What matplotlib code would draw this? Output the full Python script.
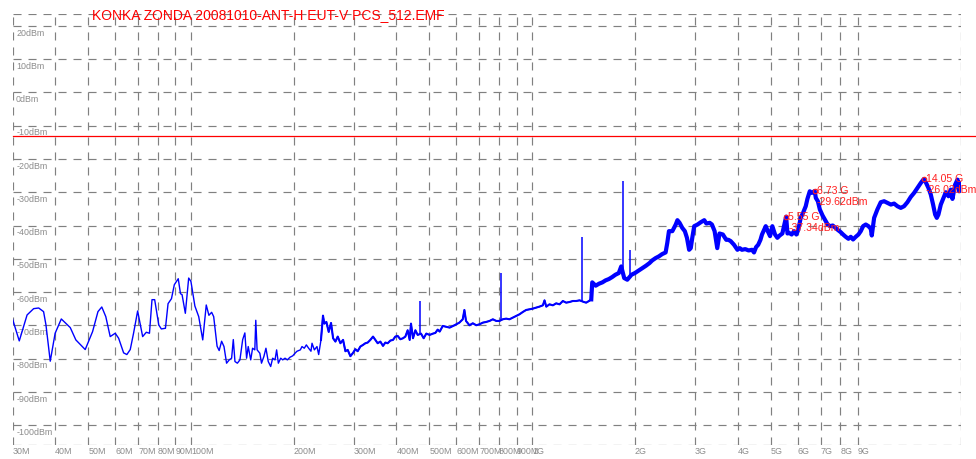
import matplotlib

matplotlib.use("Agg")
import matplotlib.pyplot as plt
import matplotlib.transforms as mtransforms
import numpy as np

plt.rcParams["font.family"] = ["Liberation Sans", "DejaVu Sans"]
plt.rcParams["lines.scale_dashes"] = False

TITLE = "KONKA ZONDA 20081010-ANT-H EUT-V PCS_512.EMF"

# sweep trace, MHz / dBm
FREQ_MHZ = [
    30.0, 31.4, 33.1, 34.6, 35.8, 37.0, 37.6, 38.7, 40.0, 41.7, 44.3, 46.0,
    49.0, 51.5, 53.4, 54.8, 56.3, 58.0, 60.0, 61.4, 63.5, 64.9, 66.4, 67.9,
    69.8, 72.2, 74.0, 75.6, 76.9, 78.3, 80.5, 81.9, 84.2, 85.7, 87.7, 89.4,
    91.8, 93.2, 94.2, 96.3, 98.5, 100.0, 102.7, 105.4, 108.3, 110.9, 112.9,
    115.0, 116.6, 119.3, 121.0, 123.0, 125.0, 127.2, 129.5, 131.6, 133.1,
    134.6, 136.8, 139.2, 141.8, 143.9, 145.6, 147.2, 149.7, 151.6, 153.9,
    154.9, 156.3, 159.2, 161.0, 163.6, 165.9, 168.5, 171.3, 173.6, 176.4,
    178.3, 180.4, 183.3, 185.8, 188.7, 191.7, 195.2, 198.7,
    202.3, 204.6, 209.2, 211.6, 214.9, 217.9, 221.3, 224.8, 226.4, 230.0,
    234.1, 236.8, 240.5, 243.8, 246.0, 249.4, 253.4, 257.4, 261.0, 265.1,
    269.3, 274.2, 279.2, 283.6, 288.0, 293.3, 298.6, 303.3, 308.1, 313.7,
    319.4, 324.5, 329.6, 335.6, 341.7, 347.1, 352.6, 359.0, 365.5, 371.3,
    377.2, 384.1, 391.0, 397.2, 403.5, 410.9, 418.3, 425.0, 431.7, 437.6,
    441.5, 447.5, 454.7, 461.9, 472.3, 480.9, 489.6, 500.7, 512.1, 520.3,
    528.6, 535.9, 547, 573, 592, 612, 626, 633, 640, 655, 670, 686, 701,
    717, 733, 750, 767, 785, 802, 820, 839, 858, 878, 898, 918, 939, 960,
    982, 1004, 1027, 1050, 1075, 1087, 1100, 1124, 1150, 1176, 1203, 1230,
    1258, 1287, 1316, 1346, 1377, 1418, 1440, 1467, 1490,
    1500, 1535, 1570, 1606, 1641, 1678, 1716, 1754, 1794, 1824, 1861, 1900,
    1955, 2000, 2055, 2104, 2155, 2207, 2248, 2300, 2350, 2404, 2461, 2489,
    2517, 2575, 2635, 2665, 2704, 2753, 2802, 2842, 2884, 2916, 2946, 2985,
    3053, 3122, 3194, 3240, 3314, 3364, 3425, 3487, 3540, 3621, 3705, 3760,
    3818, 3905, 3995, 4059, 4117, 4212, 4309, 4409, 4468, 4531, 4596, 4667,
    4716, 4788, 4837, 4902, 4979,
    5057, 5149, 5231, 5314, 5410, 5550, 5600, 5659, 5762, 5853, 5946, 6027,
    6123, 6221, 6335, 6407, 6510, 6599, 6730, 6781, 6875, 6969, 7097, 7227,
    7344, 7463, 7600, 7740, 7882, 8020, 8149, 8297, 8449, 8583, 8718, 8878,
    9040, 9183, 9329, 9499, 9671, 9825, 9892, 10050, 10270, 10510, 10750,
    11000, 11250, 11500, 11760, 12030, 12300, 12580, 12870, 13160, 13460,
    13770, 14050, 14240, 14500, 14730, 14960, 15170, 15340, 15510, 15760,
    16000, 16300, 16600, 16860, 17050, 17360, 17640, 17830, 18000,
]
LEVEL_DBM = [
    -68.1, -74.7, -66.9, -65.0, -64.8, -65.9, -69.9, -80.8, -72.4, -68.1,
    -70.7, -74.4, -77.3, -71.9, -65.9, -64.5, -67.4, -73.4, -72.4, -73.9,
    -78.3, -78.8, -77.3, -72.4, -65.7, -73.4, -72.1, -72.4, -62.3, -62.3,
    -69.9, -71.1, -70.9, -63.5, -62.0, -57.8, -56.0, -60.5, -60.8, -66.4,
    -55.8, -56.8, -64.2, -67.4, -74.4, -63.9, -67.0, -66.1, -67.4, -76.3,
    -77.6, -74.8, -76.4, -81.4, -80.4, -79.9, -74.3, -80.9, -81.4, -80.4,
    -74.3, -72.3, -79.9, -76.4, -80.4, -76.9, -77.4, -68.5, -77.4, -78.4,
    -81.4, -79.4, -76.9, -80.9, -82.4, -79.9, -80.4, -77.4, -81.4, -79.9,
    -80.4, -79.9, -80.4, -79.6, -79.2,
    -78.3, -77.8, -77.4, -76.4, -76.9, -75.9, -76.9, -77.8, -75.4, -77.4,
    -76.4, -78.8, -74.4, -67.1, -69.5, -69.0, -72.0, -69.3, -73.9, -74.9,
    -73.4, -75.4, -74.4, -77.8, -77.4, -79.3, -78.3, -77.2, -77.8, -76.4,
    -75.9, -75.4, -75.2, -74.4, -73.4, -74.4, -75.4, -74.9, -76.2, -75.2,
    -75.4, -74.6, -74.4, -73.4, -73.2, -74.2, -73.9, -73.4, -71.5, -74.4,
    -69.5, -73.9, -71.5, -72.9, -72.5, -73.9, -72.5, -72.9, -72.5, -72.3,
    -71.3, -71.9, -70.2, -70.7, -70.0, -69.2, -68.2, -65.4, -68.7, -70.0,
    -69.4, -70.0, -69.7, -69.2, -69.0, -68.7, -68.2, -68.7, -68.7, -68.2,
    -68.0, -68.2, -67.7, -67.2, -66.7, -66.0, -65.4, -65.2, -65.0, -64.7,
    -64.4, -64.0, -62.5, -64.4, -63.7, -64.0, -63.4, -63.7, -62.7, -63.2,
    -63.0, -62.7, -62.7, -62.5, -63.0, -63.2, -62.7, -62.2,
    -57.1, -58.1, -57.5, -57.1, -56.5, -56.1, -55.5, -54.8, -54.3, -52.3,
    -55.8, -56.3, -54.8, -54.3, -53.5, -52.8, -52.1, -51.3, -50.5, -49.8,
    -49.3, -48.6, -48.1, -45.2, -41.7, -41.7, -39.7, -38.4, -39.2, -40.7,
    -41.7, -43.7, -47.3, -46.8, -43.7, -40.2, -39.7, -39.0, -38.4, -39.4,
    -39.2, -39.7, -41.7, -46.8, -42.4, -42.7, -44.3, -44.3, -44.7, -45.8,
    -47.3, -46.8, -47.3, -47.1, -47.5, -47.3, -48.1, -46.5, -45.8, -44.3,
    -42.7, -41.2, -40.2, -41.7, -43.2,
    -40.2, -42.7, -43.7, -43.0, -42.4, -37.34, -42.4, -42.2, -42.7, -41.7,
    -42.7, -41.2, -37.7, -36.2, -34.2, -32.0, -29.7, -30.2, -29.62, -31.7,
    -32.7, -35.2, -37.0, -38.4, -39.7, -40.2, -40.0, -40.7, -41.4, -42.0,
    -42.7, -43.4, -44.0, -43.4, -44.2, -43.4, -42.7, -41.7, -40.2, -39.7,
    -40.2, -41.0, -43.0, -37.7, -35.2, -33.0, -32.7, -33.2, -33.7, -33.4,
    -34.2, -34.7, -34.2, -33.0, -31.4, -30.2, -28.7, -27.2, -26.02, -27.0,
    -28.7, -30.7, -33.7, -36.7, -37.7, -36.7, -33.7, -32.0, -30.0, -31.2,
    -29.2, -32.0, -27.7, -26.2, -29.7, -27.2,
]

# narrow carriers standing above the floor
SPIKE_MHZ = [468, 812, 1402, 1845, 1941]
SPIKE_TOP_DBM = [-62.8, -54.4, -43.4, -26.5, -47.5]
SPIKE_BASE_DBM = [-72.8, -68.5, -63.0, -55.3, -55.5]

MARKER_GHZ = [5.55, 6.73, 14.05]
MARKER_DBM = [-37.34, -29.62, -26.02]

LIMIT_DBM = -13.0

Y_LEVELS = list(range(20, -101, -10))
X_TICKS_MHZ = [30, 40, 50, 60, 70, 80, 90, 100, 200, 300, 400, 500, 600, 700,
               800, 900, 1000, 2000, 3000, 4000, 5000, 6000, 7000, 8000, 9000]
X_TICK_LABELS = ["30M", "40M", "50M", "60M", "70M", "80M", "90M", "100M",
                 "200M", "300M", "400M", "500M", "600M", "700M", "800M", "900M",
                 "1G", "2G", "3G", "4G", "5G", "6G", "7G", "8G", "9G"]

F_MIN, F_MAX = 30, 18000
Y_MIN, Y_MAX = -106.0, 23.6

GRID = dict(color="#808080", lw=0.85, ls=(0, (5.8, 5.0)), zorder=1)
LABEL_GRAY = "#8c8c8c"

W, H = 976, 459
fig = plt.figure(figsize=(W / 100, H / 100), dpi=100)
ax = fig.add_axes([12.5 / W, (H - 445) / H, 948 / W, 431 / H])
ax.set_xscale("log")
ax.set_xlim(F_MIN, F_MAX)
ax.set_ylim(Y_MIN, Y_MAX)
for s in ax.spines.values():
    s.set_visible(False)
ax.set_xticks([])
ax.set_yticks([])
ax.minorticks_off()

# dashed frame and grid
for lev in Y_LEVELS + [Y_MIN, Y_MAX]:
    ax.axhline(lev, **GRID)
for f in X_TICKS_MHZ + [F_MAX]:
    ax.axvline(f, **GRID)

ytrans = mtransforms.blended_transform_factory(ax.transAxes, ax.transData)
for lev in Y_LEVELS:
    ax.annotate(f"{lev}dBm", xy=(0, lev), xycoords=ytrans,
                xytext=(2.6, -7.0), textcoords="offset points",
                ha="left", va="baseline", fontsize=6.4, color=LABEL_GRAY)

xtrans = mtransforms.blended_transform_factory(ax.transData, ax.transAxes)
for f, lab in zip(X_TICKS_MHZ, X_TICK_LABELS):
    ax.annotate(lab, xy=(f, 0), xycoords=xtrans,
                xytext=(0, -6.7), textcoords="offset points",
                ha="left", va="baseline", fontsize=6.4, color=LABEL_GRAY,
                annotation_clip=False)

# trace: thin at the low end, the noise band widens higher up
freq = np.array(FREQ_MHZ)
level = np.array(LEVEL_DBM)
ax.plot(freq, level, color="#0000ff", lw=1.0, zorder=3)
mid = freq >= 240
ax.plot(freq[mid], level[mid], color="#0000ff", lw=1.5, zorder=3)
hi = freq >= 1490
ax.plot(freq[hi], level[hi], color="#0000ff", lw=3.0, zorder=3)
ax.vlines(SPIKE_MHZ, SPIKE_BASE_DBM, SPIKE_TOP_DBM, color="#0000ff", lw=1.1, zorder=3)

# limit line runs past the right edge of the frame
ax.axhline(LIMIT_DBM, xmin=0, xmax=(W - 12.5) / 948, color="#ff0000", lw=0.9,
           clip_on=False, zorder=4)

for g, d in zip(MARKER_GHZ, MARKER_DBM):
    ax.plot(g * 1000, d, "o", ms=3.2, mfc="none", mec="#ff2020", mew=0.8, zorder=5)
    ax.annotate(f"{g:.2f} G", xy=(g * 1000, d), xytext=(1.5, -2.4),
                textcoords="offset points", ha="left", va="baseline",
                fontsize=7.6, color="#ff2020", zorder=5)
    ax.annotate(f"{d:.2f}dBm", xy=(g * 1000, d), xytext=(1.5, -10.1),
                textcoords="offset points", ha="left", va="baseline",
                fontsize=7.6, color="#ff2020", zorder=5)

fig.text(92 / W, 1 - 19 / H, TITLE, ha="left", va="baseline",
         fontsize=10, color="#ff0000")

fig.savefig("out.png", dpi=100)
